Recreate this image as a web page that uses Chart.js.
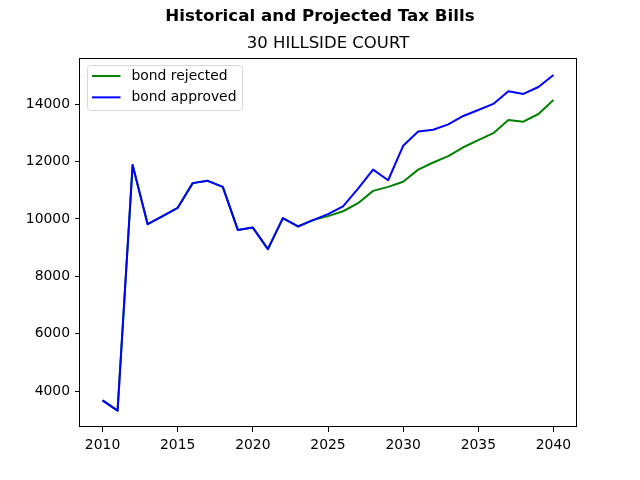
<!DOCTYPE html>
<html>
<head>
<meta charset="utf-8">
<script src="https://cdn.jsdelivr.net/npm/chart.js@4/dist/chart.umd.min.js"></script>
<style>
html,body{margin:0;padding:0;background:#ffffff;}
#wrap{width:640px;height:480px;}
</style>
</head>
<body>
<div id="wrap"><canvas id="c" width="640" height="480"></canvas></div>
<script>
const chartTitle = 'Historical and Projected Tax Bills';
const chartSubtitle = '30 HILLSIDE COURT';
const seriesLabels = ['bond rejected', 'bond approved'];
const seriesColors = ['#008000', '#0000ff'];

const years = [2010, 2011, 2012, 2013, 2014, 2015, 2016, 2017, 2018, 2019, 2020,
               2021, 2022, 2023, 2024, 2025, 2026, 2027, 2028, 2029, 2030,
               2031, 2032, 2033, 2034, 2035, 2036, 2037, 2038, 2039, 2040];

const bondRejected = [3680, 3320, 11880, 9820, 10100, 10390, 11250, 11330, 11120, 9620, 9700,
                      8950, 10030, 9740, 9960, 10100, 10270, 10550, 10980, 11120, 11300,
                      11720, 11970, 12190, 12500, 12750, 12990, 13450, 13390, 13660, 14150];

const bondApproved = [3680, 3320, 11880, 9820, 10100, 10390, 11250, 11330, 11120, 9620, 9700,
                      8950, 10030, 9740, 9960, 10170, 10440, 11060, 11720, 11350, 12550,
                      13050, 13110, 13300, 13590, 13800, 14010, 14450, 14360, 14600, 15020];

const xTicks = [2010, 2015, 2020, 2025, 2030, 2035, 2040];
const yTicks = [4000, 6000, 8000, 10000, 12000, 14000];
const xRange = [2008.5, 2041.5];
const yRange = [2750, 15610];

const FONT = 'DejaVu Sans';

const framePlugin = {
  id: 'frame',
  afterDatasetsDraw(chart) {
    const {ctx, chartArea: a} = chart;
    ctx.save();
    ctx.strokeStyle = '#000000';
    ctx.lineWidth = 1;
    ctx.strokeRect(Math.round(a.left) - 0.5, Math.round(a.top) + 0.5,
                   Math.round(a.right - a.left) + 1, Math.round(a.bottom - a.top) - 1);
    ctx.restore();
  }
};

const legendPlugin = {
  id: 'innerLegend',
  afterDraw(chart) {
    const {ctx, chartArea: a} = chart;
    const x0 = a.left + 7.5, y0 = a.top + 7.5, w = 155, h = 45, r = 3;
    ctx.save();
    ctx.beginPath();
    ctx.moveTo(x0 + r, y0);
    ctx.lineTo(x0 + w - r, y0);
    ctx.arcTo(x0 + w, y0, x0 + w, y0 + r, r);
    ctx.lineTo(x0 + w, y0 + h - r);
    ctx.arcTo(x0 + w, y0 + h, x0 + w - r, y0 + h, r);
    ctx.lineTo(x0 + r, y0 + h);
    ctx.arcTo(x0, y0 + h, x0, y0 + h - r, r);
    ctx.lineTo(x0, y0 + r);
    ctx.arcTo(x0, y0, x0 + r, y0, r);
    ctx.closePath();
    ctx.fillStyle = 'rgba(255,255,255,0.8)';
    ctx.fill();
    ctx.strokeStyle = 'rgba(204,204,204,0.8)';
    ctx.lineWidth = 1;
    ctx.stroke();
    ctx.font = '13.9px "' + FONT + '"';
    ctx.textBaseline = 'middle';
    ctx.textAlign = 'left';
    chart.data.datasets.forEach((ds, i) => {
      const ly = a.top + 18 + i * 21.3;
      ctx.beginPath();
      ctx.moveTo(a.left + 12, ly);
      ctx.lineTo(a.left + 40.5, ly);
      ctx.strokeStyle = ds.borderColor;
      ctx.lineWidth = 2;
      ctx.stroke();
      ctx.fillStyle = '#000000';
      ctx.fillText(ds.label, a.left + 51.5, ly + 0.5);
    });
    ctx.restore();
  }
};

const toPoints = (vals) => years.map((yr, i) => ({x: yr, y: vals[i]}));

new Chart(document.getElementById('c'), {
  type: 'line',
  data: {
    datasets: [
      {label: seriesLabels[0], data: toPoints(bondRejected), borderColor: seriesColors[0],
       backgroundColor: seriesColors[0], borderWidth: 2, pointRadius: 0, tension: 0, fill: false,
       borderJoinStyle: 'round', order: 1},
      {label: seriesLabels[1], data: toPoints(bondApproved), borderColor: seriesColors[1],
       backgroundColor: seriesColors[1], borderWidth: 2, pointRadius: 0, tension: 0, fill: false,
       borderJoinStyle: 'round', order: 0}
    ]
  },
  options: {
    responsive: false,
    animation: false,
    devicePixelRatio: 1,
    layout: {padding: {left: 0, right: 0, top: 0, bottom: 0}},
    scales: {
      x: {
        type: 'linear',
        min: xRange[0], max: xRange[1],
        afterBuildTicks: (s) => { s.ticks = xTicks.map(v => ({value: v})); },
        afterFit: (s) => { s.height = 53; },
        grid: {display: true, drawOnChartArea: false, drawTicks: true, tickLength: 5, tickColor: '#000000', tickWidth: 1},
        border: {display: false},
        ticks: {color: '#000000', padding: 5, maxRotation: 0, autoSkip: false,
                font: {family: FONT, size: 13.9}, callback: (v) => String(v)}
      },
      y: {
        type: 'linear',
        position: 'left',
        min: yRange[0], max: yRange[1],
        afterBuildTicks: (s) => { s.ticks = yTicks.map(v => ({value: v})); },
        afterFit: (s) => { s.width = 80; },
        grid: {display: true, drawOnChartArea: false, drawTicks: true, tickLength: 5, tickColor: '#000000', tickWidth: 1},
        border: {display: false},
        ticks: {color: '#000000', padding: 5, autoSkip: false,
                font: {family: FONT, size: 13.9}, callback: (v) => String(v)}
      },
      yRightSpace: {
        type: 'linear',
        position: 'right',
        display: true,
        afterFit: (s) => { s.width = 64; },
        grid: {display: false, drawTicks: false},
        border: {display: false},
        ticks: {display: false}
      }
    },
    plugins: {
      legend: {display: false},
      tooltip: {enabled: false},
      title: {display: true, text: chartTitle, color: '#000000', fullSize: true,
              font: {family: FONT, size: 16.7, weight: 'bold', lineHeight: 1.2},
              padding: {top: 7, bottom: 7.2}},
      subtitle: {display: true, text: chartSubtitle, color: '#000000', fullSize: false,
                 font: {family: FONT, size: 16.5, weight: 'normal', lineHeight: 1.2},
                 padding: {top: 0, bottom: 4}}
    }
  },
  plugins: [framePlugin, legendPlugin]
});
</script>
</body>
</html>
